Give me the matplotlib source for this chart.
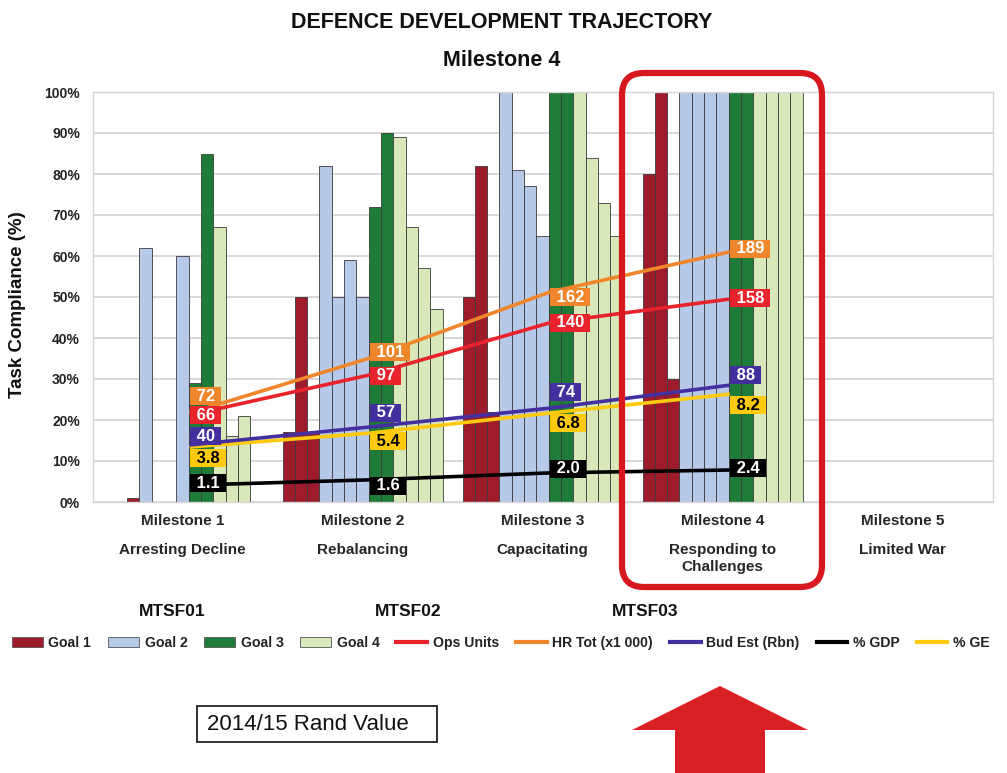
import numpy as np
import matplotlib
matplotlib.use("Agg")
import matplotlib.pyplot as plt
from matplotlib.patches import Patch, Rectangle, FancyBboxPatch, Polygon
from matplotlib.lines import Line2D
from matplotlib.transforms import IdentityTransform, blended_transform_factory

plt.rcParams['font.family'] = ['Liberation Sans', 'DejaVu Sans']

# ---------------- data ----------------
milestones = ["Milestone 1", "Milestone 2", "Milestone 3", "Milestone 4", "Milestone 5"]
phases = ["Arresting Decline", "Rebalancing", "Capacitating", "Responding to\nChallenges", "Limited War"]
mtsf_labels = ["MTSF01", "MTSF02", "MTSF03"]
yticks = [0, 10, 20, 30, 40, 50, 60, 70, 80, 90, 100]

# each inner list = one sub-series across Milestone 1..5 (task compliance %)
goal1 = [[0, 17, 50, 80, 0],
         [0, 50, 82, 100, 0],
         [1, 17, 22, 30, 0]]
goal2 = [[62, 82, 100, 100, 0],
         [0, 50, 81, 100, 0],
         [0, 59, 77, 100, 0],
         [60, 50, 65, 100, 0]]
goal3 = [[29, 72, 100, 100, 0],
         [85, 90, 100, 100, 0]]
goal4 = [[67, 89, 100, 100, 0],
         [16, 67, 84, 100, 0],
         [21, 57, 73, 100, 0],
         [0, 47, 65, 100, 0]]

# trend lines (Milestone 1..4): label values and plotted level on the % scale
ops_units = ["66", "97", "140", "158"]
ops_level = [21.2, 31.0, 43.7, 49.5]
hr_tot = ["72", "101", "162", "189"]
hr_level = [21.7, 35.1, 51.2, 61.0]
bud_est = ["40", "57", "74", "88"]
bud_level = [13.9, 18.3, 22.9, 28.5]
pct_gdp = ["1.1", "1.6", "2.0", "2.4"]
gdp_level = [4.1, 5.4, 7.1, 7.8]
pct_ge = ["3.8", "5.4", "6.8", "8.2"]
ge_level = [13.4, 16.8, 21.7, 26.3]

# ---------------- styles ----------------
C_G1, C_G2, C_G3, C_G4 = "#9E1B2C", "#B7C9E8", "#1F7B38", "#D8E8B8"
C_OPS, C_HR, C_BUD, C_GDP, C_GE = "#E8232B", "#F0862C", "#43309E", "#000000", "#FFC90E"

W, H = 1007, 773
fig = plt.figure(figsize=(W / 100, H / 100), dpi=100)
fig.patch.set_facecolor("white")
ax = fig.add_axes([92.5 / W, (H - 502) / H, 900 / W, 410 / H])

x = np.arange(len(milestones))
series = ([(v, C_G1) for v in goal1] + [(v, C_G2) for v in goal2] +
          [(v, C_G3) for v in goal3] + [(v, C_G4) for v in goal4])
n = len(series)
group = 160 / 180
w = group / n
for k, (vals, col) in enumerate(series):
    ax.bar(x - group / 2 + (k + 0.5) * w, vals, width=w, color=col,
           edgecolor="#3a3a3a", linewidth=0.6, zorder=2)

ax.set_xlim(-0.5, len(milestones) - 0.5)
ax.set_ylim(0, 100)
ax.set_yticks(yticks)
ax.set_yticklabels([f"{t}%" for t in yticks], fontsize=10, fontweight="bold", color="#222222")
ax.tick_params(axis="y", length=0, pad=9)
ax.set_xticks([])
ax.grid(axis="y", color="#d6d6d6", linewidth=1.3, zorder=0)
ax.set_axisbelow(True)
for s in ax.spines.values():
    s.set_color("#d6d6d6")
    s.set_linewidth(1.0)

# category labels
tr = blended_transform_factory(ax.transData, ax.transAxes)
for i, (m, p) in enumerate(zip(milestones, phases)):
    ax.text(i, -19 / 410, m, transform=tr, ha="center", va="center", fontsize=11,
            fontweight="bold", color="#262626")
    ax.text(i, -41 / 410, p, transform=tr, ha="center", va="top", fontsize=11,
            fontweight="bold", color="#262626", linespacing=1.3)

# trend lines with boxed value labels
xl = np.arange(4) + 0.04
lines = [
    (pct_gdp, gdp_level, C_GDP, "white", [2, -6, 4, 2]),
    (pct_ge, ge_level, C_GE, "black", [-11, -8, -10, -11]),
    (bud_est, bud_level, C_BUD, "white", [9, 14, 16, 10]),
    (ops_units, ops_level, C_OPS, "white", [0, -1, 0, 1]),
    (hr_tot, hr_level, C_HR, "white", [17, 6, -5, 3]),
]
for labels, level, col, tcol, dys in lines:
    ax.plot(xl, level, color=col, linewidth=2.6, zorder=3, solid_capstyle="butt")
for labels, level, col, tcol, dys in lines:
    for xi, yi, lab, dy in zip(xl, level, labels, dys):
        ax.annotate(f" {lab} ", (xi, yi), xytext=(2, dy), textcoords="offset pixels",
                    ha="left", va="center", fontsize=12, fontweight="bold", color=tcol,
                    bbox=dict(boxstyle="square,pad=0.1", fc=col, ec="none"),
                    zorder=6, annotation_clip=False)

# titles
fig.text(502 / W, 1 - 22 / H, "DEFENCE DEVELOPMENT TRAJECTORY", ha="center", va="center",
         fontsize=15.5, fontweight="bold", color="#111111")
fig.text(502 / W, 1 - 60 / H, "Milestone 4", ha="center", va="center",
         fontsize=15.5, fontweight="bold", color="#111111")
fig.text(18 / W, 1 - 305 / H, "Task Compliance (%)", ha="center", va="center", rotation=90,
         fontsize=13.5, fontweight="bold", color="#111111")

# MTSF labels
for lab, xp in zip(mtsf_labels, [172, 408, 645]):
    fig.text(xp / W, 1 - 612 / H, lab, ha="center", va="center", fontsize=12.5,
             fontweight="bold", color="#111111")

# legend
handles = [Patch(facecolor=C_G1, edgecolor="#555555", linewidth=0.6),
           Patch(facecolor=C_G2, edgecolor="#555555", linewidth=0.6),
           Patch(facecolor=C_G3, edgecolor="#555555", linewidth=0.6),
           Patch(facecolor=C_G4, edgecolor="#555555", linewidth=0.6),
           Line2D([], [], color=C_OPS, lw=3), Line2D([], [], color=C_HR, lw=3),
           Line2D([], [], color=C_BUD, lw=3), Line2D([], [], color=C_GDP, lw=3),
           Line2D([], [], color=C_GE, lw=3)]
names = ["Goal 1", "Goal 2", "Goal 3", "Goal 4", "Ops Units", "HR Tot (x1 000)",
         "Bud Est (Rbn)", "% GDP", "% GE"]
leg = fig.legend(handles, names, ncol=9, loc="center left",
                 bbox_to_anchor=(12 / W, 1 - 643 / H), frameon=False,
                 prop=dict(size=10.1, weight="bold"), handlelength=2.2, handleheight=0.8,
                 handletextpad=0.4, columnspacing=1.2, borderaxespad=0, borderpad=0)
for t in leg.get_texts():
    t.set_color("#222222")

# highlight frame around Milestone 4
ident = IdentityTransform()
frame = FancyBboxPatch((622, H - 587), 200, 514, boxstyle="round,pad=0,rounding_size=22",
                       transform=ident, fill=False, edgecolor="#D7191F", linewidth=4.5,
                       zorder=10)
fig.add_artist(frame)

# Rand value box
fig.add_artist(Rectangle((197, H - 742), 240, 36, transform=ident, facecolor="white",
                         edgecolor="#222222", linewidth=1.3))
fig.text(207 / W, 1 - 724 / H, "2014/15 Rand Value", ha="left", va="center", fontsize=16,
         color="#111111")

# red arrow
arrow = Polygon([(720, H - 686), (808, H - 730), (765, H - 730), (765, 0), (675, 0),
                 (675, H - 730), (632, H - 730)], closed=True, transform=ident,
                facecolor="#DA2027", edgecolor="none")
fig.add_artist(arrow)

fig.savefig("out.png", dpi=100)
